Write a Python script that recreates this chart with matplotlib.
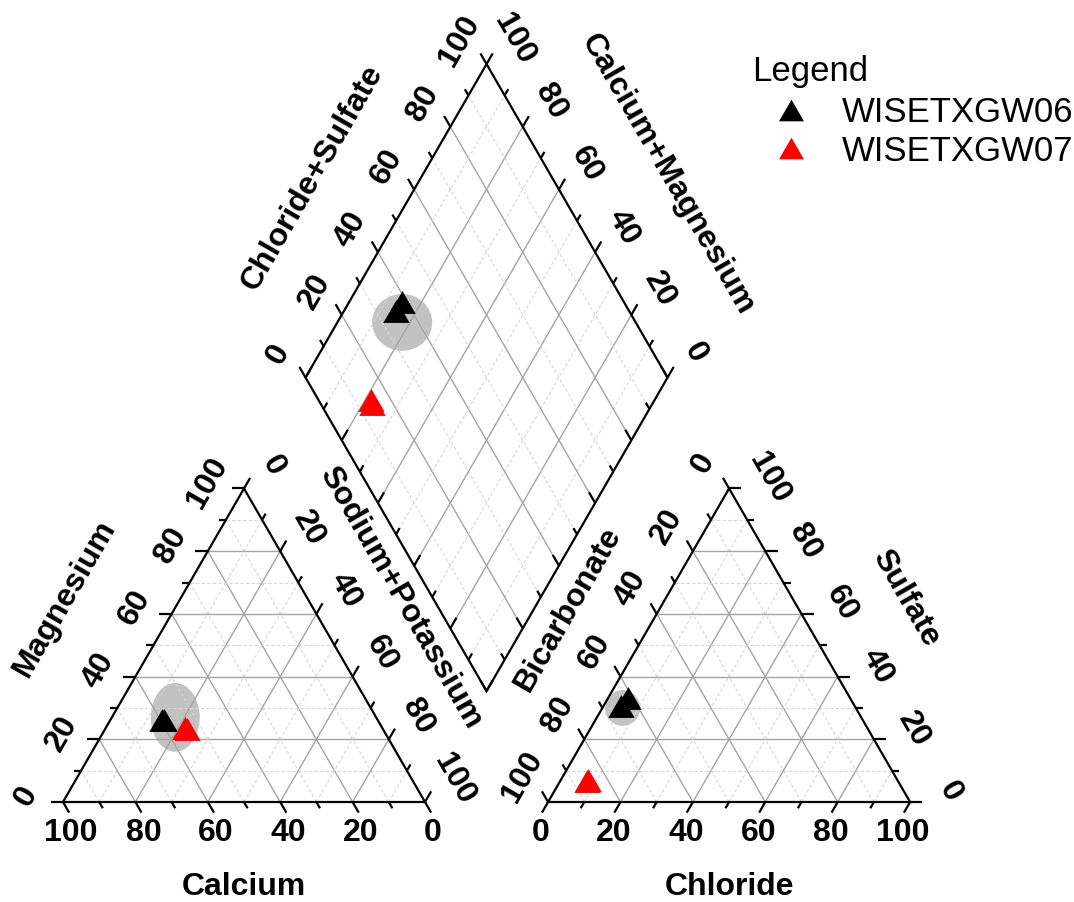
import numpy as np
import matplotlib.pyplot as plt
from matplotlib.patches import Ellipse, Polygon
from matplotlib.lines import Line2D

plt.rcParams['font.family'] = ['Liberation Sans', 'DejaVu Sans']

# sample compositions, % of meq/L
samples = ['WISETXGW06', 'WISETXGW06', 'WISETXGW07', 'WISETXGW07']
sample_colors = {'WISETXGW06': 'black', 'WISETXGW07': 'red'}
calcium = [59.7, 59.0, 54.6, 54.2]
magnesium = [26.0, 26.3, 23.6, 23.2]
sodium_potassium = [14.3, 14.7, 21.8, 22.6]
bicarbonate = [64.5, 61.3, 85.5, 85.8]
chloride = [4.9, 5.5, 7.6, 7.4]
sulfate = [30.6, 33.2, 6.9, 6.8]

# centres of the shaded ellipses (as compositions)
ell_cation = (55.5, 27.0, 17.5)   # Ca, Mg, Na+K
ell_anion = (64.4, 5.6, 30.0)     # HCO3, Cl, SO4
ell_diamond = (17.9, 35.5)        # Na+K, Cl+SO4

tick_values = np.arange(0, 101, 10)

g = 0.34               # gap between the two triangles
h = np.sqrt(3) / 2
px = 1 / 362           # one pixel in plot units
b0 = np.array([1 + g / 2, g / 2 * np.sqrt(3) + 0.012])   # bottom corner of diamond
u = np.array([0.5, h])
v = np.array([-0.5, h])


def cat_xy(ca, mg, na):
    ca, mg, na = (np.asarray(a, dtype=float) for a in (ca, mg, na))
    tot = ca + mg + na
    return (na + mg / 2) / tot, mg * h / tot


def an_xy(hco3, cl, so4):
    hco3, cl, so4 = (np.asarray(a, dtype=float) for a in (hco3, cl, so4))
    tot = hco3 + cl + so4
    return 1 + g + (cl + so4 / 2) / tot, so4 * h / tot


def dia_xy(na, an):
    na = np.asarray(na, dtype=float)
    an = np.asarray(an, dtype=float)
    return (b0[0] + (1 - na) * v[0] + an * u[0],
            b0[1] + (1 - na) * v[1] + an * u[1])


fig = plt.figure(figsize=(10.74, 9.02), dpi=100)
ax = fig.add_axes([0, 0, 1, 1])
ax.set_xlim(-63 * px, (1074 - 63) * px)
ax.set_ylim(-100 * px, 802 * px)
ax.axis('off')


def gridline(p, q, t):
    if t % 20 == 0:
        ax.plot([p[0], q[0]], [p[1], q[1]], color='#a4a4a4', lw=1.0, zorder=2)
    else:
        ax.plot([p[0], q[0]], [p[1], q[1]], color='#d6d6d6', lw=0.8,
                ls=(0, (3, 2)), zorder=2)


for t in range(10, 100, 10):
    f = t / 100
    gridline(cat_xy(100 - t, t, 0), cat_xy(0, t, 100 - t), t)
    gridline(cat_xy(100 - t, 0, t), cat_xy(0, 100 - t, t), t)
    gridline(cat_xy(t, 0, 100 - t), cat_xy(t, 100 - t, 0), t)
    gridline(an_xy(100 - t, 0, t), an_xy(0, 100 - t, t), t)
    gridline(an_xy(100 - t, t, 0), an_xy(0, t, 100 - t), t)
    gridline(an_xy(t, 100 - t, 0), an_xy(t, 0, 100 - t), t)
    gridline(dia_xy(0, f), dia_xy(1, f), t)
    gridline(dia_xy(1 - f, 0), dia_xy(1 - f, 1), t)

# outlines
for corners in ([cat_xy(100, 0, 0), cat_xy(0, 0, 100), cat_xy(0, 100, 0)],
                [an_xy(100, 0, 0), an_xy(0, 100, 0), an_xy(0, 0, 100)],
                [dia_xy(1, 0), dia_xy(1, 1), dia_xy(0, 1), dia_xy(0, 0)]):
    ax.add_patch(Polygon(np.array(corners, dtype=float), closed=True, fill=False,
                         edgecolor='black', lw=1.6, zorder=3, joinstyle='miter'))


def tick(p, d, t):
    L = 0.034 if t % 20 == 0 else 0.02
    ax.plot([p[0], p[0] + d[0] * L], [p[1], p[1] + d[1] * L], color='black',
            lw=1.6, zorder=3, solid_capstyle='butt')


def ticklabel(p, off, t, rot):
    if t % 20:
        return
    ax.text(p[0] + off[0] * px, p[1] - off[1] * px, str(t), rotation=rot,
            rotation_mode='anchor', ha='center', va='center',
            fontsize=23, fontweight='bold')


down_right = (0.5, -h)
down_left = (-0.5, -h)
for t in tick_values:
    f = t / 100
    p = cat_xy(t, 0, 100 - t)
    tick(p, down_right, t)
    ticklabel(p, (8, 31), t, 0)
    p = cat_xy(100 - t, t, 0)
    tick(p, (-1, 0), t)
    ticklabel(p, (-37, -6), t, 60)
    p = cat_xy(0, 100 - t, t)
    tick(p, u, t)
    ticklabel(p, (29, -23), t, -60)

    p = an_xy(100 - t, t, 0)
    tick(p, down_left, t)
    ticklabel(p, (-7, 31), t, 0)
    p = an_xy(t, 0, 100 - t)
    tick(p, v, t)
    ticklabel(p, (-26, -25), t, 60)
    p = an_xy(0, 100 - t, t)
    tick(p, (1, 0), t)
    ticklabel(p, (40, -10), t, -60)

    p = dia_xy(0, f)
    tick(p, v, t)
    ticklabel(p, (-27, -23), t, 60)
    p = dia_xy(1 - f, 1)
    tick(p, u, t)
    ticklabel(p, (28, -25), t, -60)
    tick(dia_xy(f, 0), u, t)
    tick(dia_xy(1, f), v, t)

# axis titles
title_kw = dict(fontsize=23, fontweight='bold', ha='center', va='center',
                rotation_mode='anchor')
ax.text(0.5, -0.235, 'Calcium', **title_kw)
ax.text(1 + g + 0.5, -0.235, 'Chloride', **title_kw)
ax.text(0.006, 0.563, 'Magnesium', rotation=60, **title_kw)
ax.text(0.931, 0.563, 'Sodium+Potassium', rotation=-60, **title_kw)
ax.text(1.395, 0.533, 'Bicarbonate', rotation=60, **title_kw)
ax.text(2.329, 0.563, 'Sulfate', rotation=-60, **title_kw)
ax.text(0.688, 1.724, 'Chloride+Sulfate', rotation=60, **title_kw)
ax.text(1.669, 1.732, 'Calcium+Magnesium', rotation=-60, **title_kw)

# shaded ellipses
ell_color = '#c2c2c2'
ax.add_patch(Ellipse(cat_xy(*ell_cation), 0.135, 0.19, facecolor=ell_color,
                     edgecolor='none', zorder=1))
ax.add_patch(Ellipse(an_xy(*ell_anion), 0.097, 0.099, facecolor=ell_color,
                     edgecolor='none', zorder=1))
ax.add_patch(Ellipse(dia_xy(ell_diamond[0] / 100, ell_diamond[1] / 100), 0.166, 0.157,
                     facecolor=ell_color, edgecolor='none', zorder=1))

# samples
tri = [(-1, -h), (1, -h), (0, h)]
na = np.array(sodium_potassium) / 100
an = (np.array(chloride) + np.array(sulfate)) / 100
for i, name in enumerate(samples):
    c = sample_colors[name]
    style = dict(marker=tri, color=c, markersize=19, markeredgewidth=0,
                 ls='none', zorder=4)
    ax.plot(*cat_xy(calcium[i], magnesium[i], sodium_potassium[i]), **style)
    ax.plot(*an_xy(bicarbonate[i], chloride[i], sulfate[i]), **style)
    ax.plot(*dia_xy(na[i], an[i]), **style)

# legend
names = list(dict.fromkeys(samples))
handles = [Line2D([], [], marker=tri, color=sample_colors[n], markersize=18,
                  markeredgewidth=0, ls='none') for n in names]
fig.text(752 / 1074, 1 - 72 / 902, 'Legend', fontsize=25, ha='left', va='center')
ax.legend(handles, names, loc='upper left',
          bbox_to_anchor=(741 / 1074, 1 - 79 / 902), bbox_transform=fig.transFigure,
          frameon=False, fontsize=25, handlelength=1.9, handletextpad=0.5,
          labelspacing=0.15, borderpad=0)

fig.savefig('out.png', dpi=100)
